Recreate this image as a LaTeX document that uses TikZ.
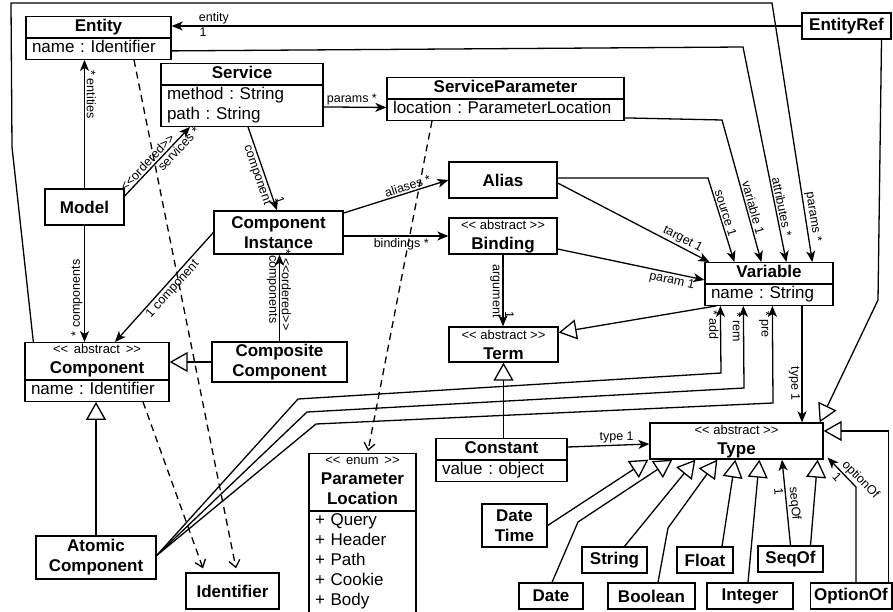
\documentclass[tikz,border=0pt]{standalone}
\usepackage{fontspec}
\setmainfont{Liberation Sans}
\usetikzlibrary{arrows.meta,shapes.multipart}
\frenchspacing

\newcommand{\umlfont}{\fontsize{17}{20}\selectfont}
\newcommand{\lblfont}{\fontsize{12.5}{14}\selectfont}
\newcommand{\stereo}[1]{{\fontsize{13}{14}\selectfont\rule{0pt}{10pt}<{}< #1 >{}>}}

\begin{document}
\begin{tikzpicture}[x=1pt, y=-1pt, line width=1.3pt,
	box/.style={draw, fill=white, inner xsep=4pt, inner ysep=0pt, font=\umlfont, align=center},
	cls/.style={box, inner xsep=6pt, rectangle split, rectangle split parts=2, anchor=north},
	assoc/.style={-{Stealth[length=11pt,width=9pt,inset=3pt]}},
	gen/.style={-{Triangle[open,length=18pt,width=20pt]}},
	dep/.style={dash pattern=on 7pt off 5pt, -{Straight Barb[length=7pt,width=11pt]}},
	lbl/.style={font=\lblfont, inner sep=1.5pt}]
	\useasboundingbox (0,0) rectangle (893,612);

	% classes
	\node[cls, text width=133pt] (entity) at (98.5,16) {\textbf{Entity}\strut\nodepart{two}\raggedright name : Identifier\strut\par};
	\node[cls, text width=150pt] (service) at (242,63) {\textbf{Service}\strut\nodepart{two}\raggedright method : String\strut\par path : String\strut\par};
	\node[cls, text width=225pt] (sparam) at (505.5,77) {\textbf{ServiceParameter}\strut\nodepart{two}\raggedright location : ParameterLocation\strut\par};
	\node[box, minimum width=89pt, minimum height=26pt] (entityref) at (846.5,26) {\textbf{EntityRef}};
	\node[box, minimum width=79pt, minimum height=36pt] (model) at (84.5,207) {\textbf{Model}};
	\node[box, minimum width=129pt, minimum height=43pt] (ci) at (278.5,232.5) {\textbf{Component}\\\textbf{Instance}};
	\node[box, minimum width=108pt, minimum height=36pt] (alias) at (503,180) {\textbf{Alias}};
	\node[box, minimum width=108pt, minimum height=36pt] (binding) at (503,236) {\stereo{abstract}\\\textbf{Binding}};
	\node[box, minimum width=109pt, minimum height=35pt] (term) at (503.5,344.5) {\stereo{abstract}\\\textbf{Term}};
	\node[cls, text width=116pt] (variable) at (769,262) {\textbf{Variable}\strut\nodepart{two}\raggedright name : String\strut\par};
	\node[cls, text width=132pt] (component) at (97,342) {\stereo{abstract}\\\textbf{Component}\strut\nodepart{two}\raggedright name : Identifier\strut\par};
	\node[box, minimum width=135pt, minimum height=40pt] (composite) at (279.5,362) {\textbf{Composite}\\\textbf{Component}};
	\node[box, minimum width=120pt, minimum height=43pt] (atomic) at (96,557.5) {\textbf{Atomic}\\\textbf{Component}};
	\node[box, minimum width=93pt, minimum height=36pt] (identifier) at (232.5,591) {\textbf{Identifier}};
	\node[cls, text width=95pt] (ploc) at (362.5,453) {\stereo{enum}\\\textbf{Parameter}\\\textbf{Location}\strut\nodepart{two}\raggedright + Query\strut\par + Header\par + Path\par + Cookie\par + Body\strut\par};
	\node[cls, text width=119pt] (constant) at (501.5,438) {\textbf{Constant}\strut\nodepart{two}\raggedright value : object\strut\par};
	\node[box, minimum width=173pt, minimum height=36pt] (type) at (736.5,441) {\stereo{abstract}\\\textbf{Type}};
	\node[box, minimum width=65pt, minimum height=43pt] (datetime) at (514.5,525.5) {\textbf{Date}\\\textbf{Time}};
	\node[box, minimum width=65pt, minimum height=26pt] (string) at (614.5,560) {\textbf{String}};
	\node[box, minimum width=56pt, minimum height=26pt] (float) at (705,560) {\textbf{Float}};
	\node[box, minimum width=65pt, minimum height=26pt] (seqof) at (790.5,559) {\textbf{SeqOf}};
	\node[box, minimum width=64pt, minimum height=26pt] (date) at (551,596) {\textbf{Date}};
	\node[box, minimum width=87pt, minimum height=26pt] (boolean) at (651.5,596) {\textbf{Boolean}};
	\node[box, minimum width=86pt, minimum height=26pt] (integer) at (750,596) {\textbf{Integer}};
	\node[box, minimum width=80pt, minimum height=26pt] (optionof) at (851,596) {\textbf{OptionOf}};

	% associations
	\draw[assoc] ([xshift=9]component.north west) -- (12,147) -- (11,3) -- (772,3) -- node[lbl, pos=0.83, sloped, above] {params *} ([xshift=108]variable.north west);
	\draw[assoc] (entityref.west) -- node[lbl, pos=0.933, above] {entity} node[lbl, pos=0.95, below] {1} (entityref.west -| entity.north east);
	\draw[assoc] ([yshift=9]entity.south east) -- (743,47) -- node[lbl, pos=0.75, sloped, above] {attributes *} ([xshift=82]variable.north west);
	\draw[assoc] ([yshift=3]sparam.south east) -- (722,120) -- node[lbl, pos=0.63, sloped, above] {variable 1} ([xshift=57]variable.north west);
	\draw[assoc] ([yshift=2]alias.east) -- (708,178) -- node[lbl, pos=0.44, sloped, above] {source 1} ([xshift=30]variable.north west);
	\draw[assoc] ([yshift=-3]alias.east) -- node[lbl, pos=0.8, sloped, above] {target 1} ([xshift=5]variable.north west);
	\draw[assoc] ([yshift=-13]binding.east) -- node[lbl, pos=0.79, sloped, below] {param 1} ([yshift=4]variable.west);
	\draw[assoc] ([yshift=2]atomic.east) -- (298,399) -- (721,373) -- node[lbl, pos=0.72, rotate=-90, anchor=north] {* add} ([xshift=16]variable.south west);
	\draw[assoc] ([yshift=2]atomic.east) -- (307,412) -- (744,388) -- node[lbl, pos=0.74, rotate=-90, anchor=north] {* rem} ([xshift=39]variable.south west);
	\draw[assoc] ([yshift=2]atomic.east) -- (316,424) -- (773,403) -- node[lbl, pos=0.81, rotate=-90, anchor=north] {* pre} ([xshift=68]variable.south west);
	\draw[assoc] ([xshift=33]variable.south) -- node[lbl, pos=0.67, rotate=-90, anchor=north] {type 1} ([xshift=65.5]type.north);
	\draw[assoc] ([yshift=-9]constant.north east) -- node[lbl, pos=0.6, above] {type 1} ([yshift=-3]type.west);
	\draw[assoc] (seqof.north) -- node[lbl, pos=0.48, sloped, above] {seqOf} node[lbl, pos=0.63, sloped, below] {1} ([xshift=45.5]type.south);
	\draw[assoc] ([xshift=5]optionof.north) -- (856,487) -- node[lbl, pos=0.05, sloped, above] {optionOf} node[lbl, pos=0.5, sloped, below] {1} ([xshift=4,yshift=2]type.south east);
	\draw[assoc] (binding.south) -- node[lbl, pos=0.51, rotate=-90, anchor=north] {argument} node[lbl, pos=0.84, rotate=-90, anchor=south] {1} (binding.south |- term.north);
	\draw[assoc] (model.north) -- node[lbl, pos=0.73, rotate=-90, anchor=south] {* entities} (model.north |- entity.south);
	\draw[assoc] (model.south) -- node[lbl, pos=0.62, rotate=90, anchor=south] {* components} (model.south |- component.north);
	\draw[assoc] ([yshift=11]model.east) -- node[lbl, pos=0.42, sloped, above] {<{}<ordered>{}>} node[lbl, pos=0.75, sloped, below] {services *} ([xshift=-52]service.south);
	\draw[assoc] ([yshift=-12]service.east) -- node[lbl, pos=0.45, above] {params *} ([yshift=-8.5]sparam.west);
	\draw[assoc] ([xshift=6]service.south) -- node[lbl, pos=0.55, sloped, below] {component} node[lbl, pos=0.9, sloped, above] {1} ([xshift=-1.5]ci.north);
	\draw[assoc] ([yshift=19.5]ci.east) -- node[lbl, pos=0.63, sloped, above] {aliases *} (alias.west);
	\draw[assoc] (binding.west -| ci.east) -- node[lbl, pos=0.55, below] {bindings *} (binding.west);
	\draw[assoc] (ci.west) -- node[lbl, pos=0.47, sloped, below] {1 component} ([xshift=18]component.north);
	\draw[assoc] (composite.north) -- node[lbl, pos=0.6, rotate=-90, anchor=north] {components} node[lbl, pos=0.59, rotate=-90, anchor=south] {* <{}<ordered>{}>} (composite.north |- ci.south);

	% generalizations
	\draw[gen] ([xshift=12]variable.south west) -- ([yshift=12]term.east);
	\draw[gen] (term.south |- constant.north) -- (term.south);
	\draw[gen] (composite.west) -- (composite.west -| component.east);
	\draw[gen] (atomic.north) -- (atomic.north |- component.south);
	\draw[gen] ([xshift=35]entityref.south) -- (878,300) -- ([xshift=-4]type.north east);
	\draw[gen] ([xshift=-4]optionof.north east) |- ([yshift=10]type.east);
	\draw[gen] ([xshift=20]seqof.north) -- ([xshift=-6]type.south east);
	\draw[gen] (datetime.east) -- ([xshift=-1]type.south west);
	\draw[gen] ([xshift=1]date.north) -- (578,522) -- ([xshift=23]type.south west);
	\draw[gen] ([xshift=10]string.north) -- ([xshift=46]type.south west);
	\draw[gen] ([xshift=6.5]boolean.north) -- (668,528) -- ([xshift=68]type.south west);
	\draw[gen] ([xshift=17]float.north) -- ([xshift=86]type.south west);
	\draw[gen] ([xshift=-2]integer.north) -- ([xshift=110]type.south west);

	% dependencies
	\draw[dep] ([xshift=35.5]entity.south) -- ([xshift=3.5,yshift=4]identifier.north);
	\draw[dep] ([xshift=46]component.south) -- ([xshift=-29.5,yshift=4]identifier.north);
	\draw[dep] ([xshift=-73.5]sparam.south) -- ([xshift=5.5,yshift=2]ploc.north);
\end{tikzpicture}
\end{document}
